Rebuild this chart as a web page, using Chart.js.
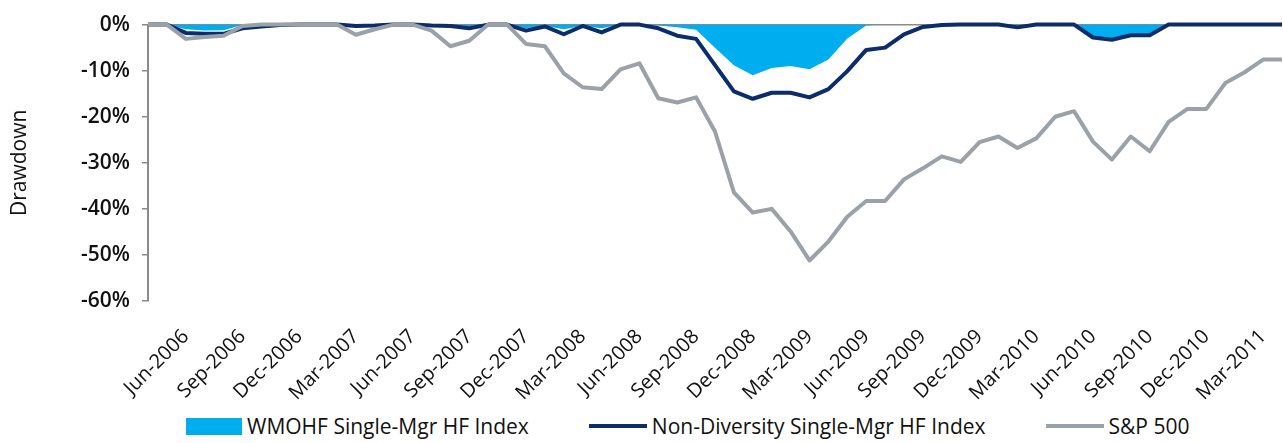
<!DOCTYPE html>
<html>
<head>
<meta charset="utf-8">
<script src="https://cdn.jsdelivr.net/npm/chart.js@4.4.1/dist/chart.umd.min.js"></script>
<style>
  html, body { margin: 0; padding: 0; background: #fff; }
  #wrap { width: 1283px; height: 405px; }
  .legend { display: flex; align-items: center; height: 38px; padding: 4px 0 0 186px; box-sizing: border-box;
            font: 21px 'Open Sans', sans-serif; color: #111; white-space: nowrap; }
  .item { display: flex; align-items: center; margin-right: 60px; }
  .swatch { width: 56px; margin-right: 5px; }
</style>
</head>
<body>
<div id="wrap"><canvas id="chart" width="1283" height="405"></canvas></div>
<div class="legend" id="legend"></div>
<script>
const months = [
  'Apr-2006', 'May-2006', 'Jun-2006', 'Jul-2006', 'Aug-2006', 'Sep-2006', 'Oct-2006', 'Nov-2006', 'Dec-2006',
  'Jan-2007', 'Feb-2007', 'Mar-2007', 'Apr-2007', 'May-2007', 'Jun-2007', 'Jul-2007', 'Aug-2007', 'Sep-2007',
  'Oct-2007', 'Nov-2007', 'Dec-2007', 'Jan-2008', 'Feb-2008', 'Mar-2008', 'Apr-2008', 'May-2008', 'Jun-2008',
  'Jul-2008', 'Aug-2008', 'Sep-2008', 'Oct-2008', 'Nov-2008', 'Dec-2008', 'Jan-2009', 'Feb-2009', 'Mar-2009',
  'Apr-2009', 'May-2009', 'Jun-2009', 'Jul-2009', 'Aug-2009', 'Sep-2009', 'Oct-2009', 'Nov-2009', 'Dec-2009',
  'Jan-2010', 'Feb-2010', 'Mar-2010', 'Apr-2010', 'May-2010', 'Jun-2010', 'Jul-2010', 'Aug-2010', 'Sep-2010',
  'Oct-2010', 'Nov-2010', 'Dec-2010', 'Jan-2011', 'Feb-2011', 'Mar-2011', 'Apr-2011'
]

// Drawdown in %, one value per month
const wmohf = [
  0, 0, -1.0, -1.3, -1.2, -0.1, 0, 0, 0,
  0, 0, 0, 0, 0, 0, 0, -0.2, -0.3,
  0, 0, -0.8, -0.3, -1.0, -0.3, -0.8, 0, 0,
  -0.2, -0.6, -1.1, -5.0, -8.8, -11.0, -9.4, -9.0, -9.7,
  -7.6, -3.0, -0.2, 0, 0, 0, 0, 0, 0,
  0, -0.3, 0, 0, 0, -2.6, -3.0, -2.1, -2.0,
  0, 0, 0, 0, 0, 0, 0
]
const nonDiversity = [
  0, 0, -1.8, -2.0, -2.0, -0.8, -0.4, -0.1, 0,
  0, 0, -0.3, -0.2, 0, 0, -0.2, -0.3, -0.8,
  0, 0, -1.3, -0.4, -2.1, -0.3, -1.7, 0, 0,
  -0.8, -2.4, -3.1, -8.8, -14.5, -16.1, -14.8, -14.8, -15.8,
  -14.0, -10.1, -5.5, -5.0, -2.1, -0.5, -0.1, 0, 0,
  0, -0.6, 0, 0, 0, -2.8, -3.3, -2.3, -2.3,
  0, 0, 0, 0, 0, 0, 0
]
const sp500 = [
  0, 0, -3.1, -2.7, -2.4, -0.3, 0, 0, 0,
  0, 0, -2.2, -1.0, 0, 0, -1.3, -4.7, -3.5,
  0, 0, -4.2, -4.7, -10.6, -13.6, -14.0, -9.7, -8.4,
  -16.0, -16.9, -15.8, -23.2, -36.4, -40.8, -40.0, -44.9, -51.2,
  -47.1, -41.7, -38.3, -38.3, -33.6, -31.2, -28.6, -29.8, -25.5,
  -24.3, -26.8, -24.7, -20.0, -18.8, -25.4, -29.3, -24.3, -27.5,
  -21.1, -18.3, -18.3, -12.7, -10.4, -7.6, -7.6
]

const seriesNames = ['WMOHF Single-Mgr HF Index', 'Non-Diversity Single-Mgr HF Index', 'S&P 500']
const seriesColors = ['#00AEEF', '#0B2D6B', '#9AA1A8']
const labelledMonths = ['Mar', 'Jun', 'Sep', 'Dec']

const textColor = '#111111'
const axisColor = '#8a8a8a'
const fontFamily = "'Open Sans', sans-serif"

new Chart(document.getElementById('chart'), {
  type: 'line',
  data: {
    labels: months,
    datasets: [
      {
        label: seriesNames[0],
        data: wmohf,
        backgroundColor: seriesColors[0],
        borderWidth: 0,
        fill: 'origin',
        order: 2
      },
      {
        label: seriesNames[1],
        data: nonDiversity,
        borderColor: seriesColors[1],
        borderWidth: 4,
        fill: false,
        clip: false,
        order: 1
      },
      {
        label: seriesNames[2],
        data: sp500,
        borderColor: seriesColors[2],
        borderWidth: 4,
        fill: false,
        clip: false,
        order: 0
      }
    ]
  },
  options: {
    responsive: false,
    animation: false,
    layout: { padding: { top: 19, right: 1, left: 0, bottom: 0 } },
    elements: {
      point: { radius: 0 },
      line: { tension: 0, borderJoinStyle: 'round' }
    },
    plugins: {
      legend: { display: false },
      tooltip: { enabled: false }
    },
    scales: {
      x: {
        grid: { display: false },
        border: { display: false },
        ticks: {
          autoSkip: false,
          minRotation: 45,
          maxRotation: 45,
          padding: 16,
          color: textColor,
          font: { family: fontFamily, size: 20 },
          // only the quarter-end months carry a label
          callback: (value) => (labelledMonths.includes(months[value].slice(0, 3)) ? months[value] : null)
        },
        afterFit: (scale) => {
          scale.height = 104
          scale.paddingLeft = 0
          scale.paddingRight = 0
        }
      },
      y: {
        min: -60,
        max: 0,
        grid: {
          color: (ctx) => (ctx.tick && ctx.tick.value === 0 ? axisColor : 'transparent'),
          tickColor: axisColor,
          tickLength: 6,
          lineWidth: 1.5
        },
        border: { color: axisColor, width: 2 },
        ticks: {
          stepSize: 10,
          padding: 12,
          color: textColor,
          font: { family: fontFamily, size: 21, weight: '600' },
          callback: (value) => value + '%'
        },
        title: {
          display: true,
          text: 'Drawdown',
          color: textColor,
          font: { family: fontFamily, size: 21 },
          padding: { top: 7, bottom: 0 }
        },
        afterFit: (scale) => {
          scale.width = 148
        }
      }
    }
  }
})

// legend as plain HTML below the canvas
const legend = document.getElementById('legend')
seriesNames.forEach((name, i) => {
  const item = document.createElement('div')
  item.className = 'item'
  const swatch = document.createElement('span')
  swatch.className = 'swatch'
  swatch.style.background = seriesColors[i]
  swatch.style.height = i === 0 ? '17px' : '4px'
  if (i > 0) swatch.style.width = '58px'
  const text = document.createElement('span')
  text.textContent = name
  item.appendChild(swatch)
  item.appendChild(text)
  legend.appendChild(item)
})
</script>
</body>
</html>
